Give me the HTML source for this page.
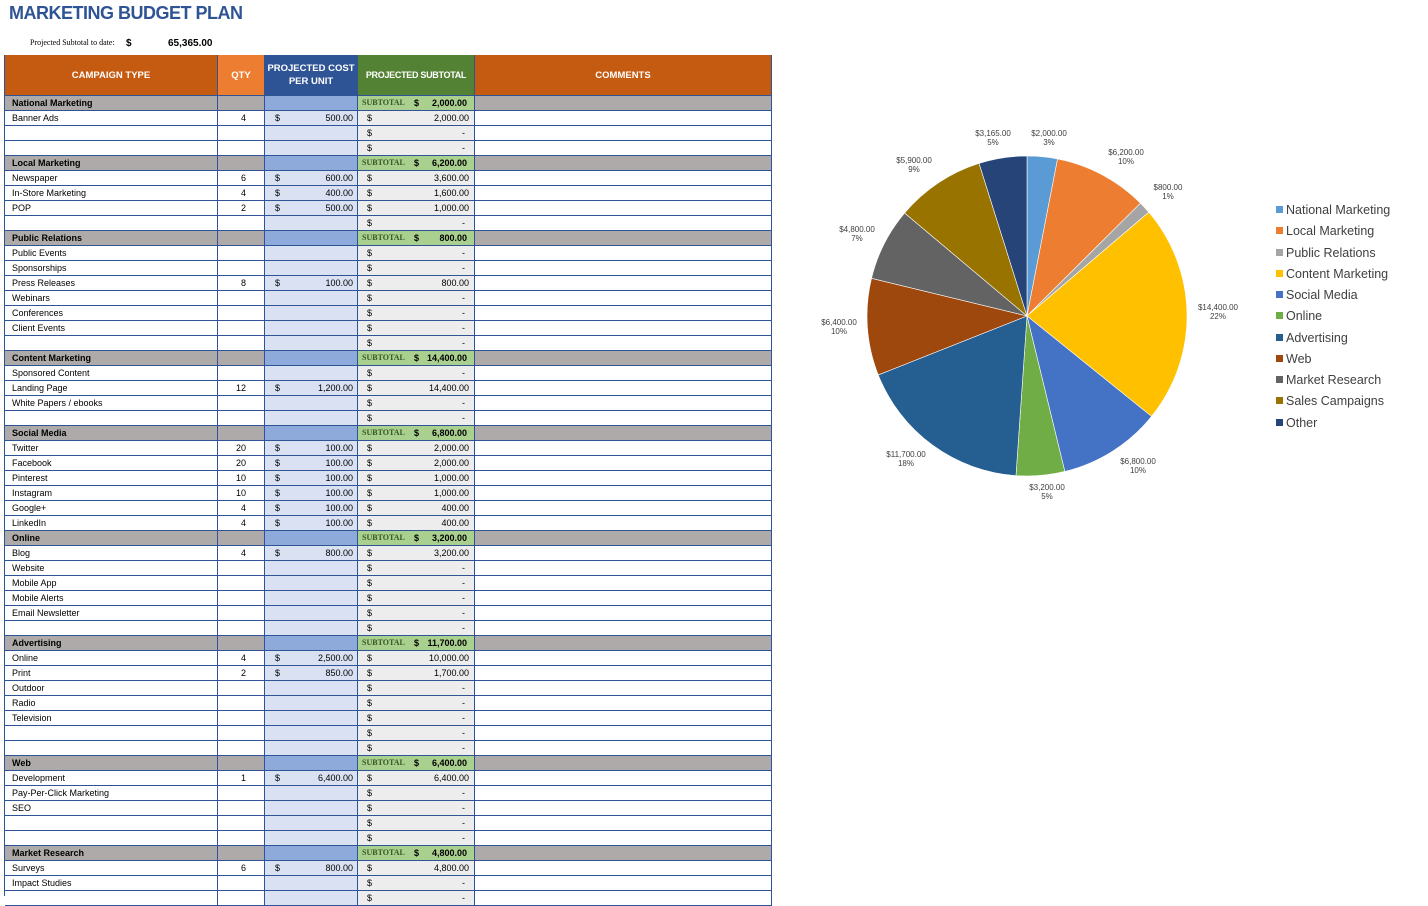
<!DOCTYPE html>
<html><head><meta charset="utf-8">
<style>
body{margin:0;width:1428px;height:896px;overflow:hidden;background:#fff;font-family:"Liberation Sans",sans-serif;position:relative}
.a{position:absolute;box-sizing:border-box;white-space:nowrap}
.c{position:absolute;box-sizing:border-box;border-right:1px solid #2f5496;border-bottom:1px solid #2f5496;font-size:9px;color:#000;line-height:14px;overflow:hidden;white-space:nowrap}
.h{position:absolute;box-sizing:border-box;color:#fff;font-weight:bold;font-size:9.5px;display:flex;align-items:center;justify-content:center;text-align:center;line-height:13px;border-right:1px solid #2f5496;border-bottom:1px solid #2f5496}
.lg{position:absolute;left:1276px;font-size:12.5px;color:#404040}
.lg i{display:inline-block;width:7px;height:7px;margin-right:3px;vertical-align:1px}
</style></head><body>
<div class="a" style="left:9px;top:3px;font-size:18px;font-weight:bold;color:#2f5496;letter-spacing:-0.5px">MARKETING BUDGET PLAN</div>
<div class="a" style="left:30px;top:38px;font-size:8px;font-family:'Liberation Serif',serif">Projected Subtotal to date:</div>
<div class="a" style="left:126px;top:38px;font-size:10px;font-weight:bold">$</div>
<div class="a" style="left:168px;top:38px;font-size:10px;font-weight:bold">65,365.00</div>
<div id="t"></div>
<svg id="pie" class="a" style="left:0;top:0" width="1428" height="896"></svg>
<div class="lg" style="top:203px"><i style="background:#5b9bd5"></i>National Marketing</div>
<div class="lg" style="top:224px"><i style="background:#ed7d31"></i>Local Marketing</div>
<div class="lg" style="top:246px"><i style="background:#a5a5a5"></i>Public Relations</div>
<div class="lg" style="top:267px"><i style="background:#ffc000"></i>Content Marketing</div>
<div class="lg" style="top:288px"><i style="background:#4472c4"></i>Social Media</div>
<div class="lg" style="top:309px"><i style="background:#70ad47"></i>Online</div>
<div class="lg" style="top:331px"><i style="background:#255e91"></i>Advertising</div>
<div class="lg" style="top:352px"><i style="background:#9e480e"></i>Web</div>
<div class="lg" style="top:373px"><i style="background:#636363"></i>Market Research</div>
<div class="lg" style="top:394px"><i style="background:#997300"></i>Sales Campaigns</div>
<div class="lg" style="top:416px"><i style="background:#264478"></i>Other</div>
<script>
var h='';
function cell(x0,x1,y,hgt,bg,inner,cls){h+='<div class="'+(cls||'c')+'" style="left:'+x0+'px;top:'+y+'px;width:'+(x1-x0)+'px;height:'+hgt+'px;background:'+bg+'">'+inner+'</div>';}
cell(5,218,55,41,'#c55a11','CAMPAIGN TYPE','h');
cell(218,265,55,41,'#ed7d31','QTY','h');
cell(265,358,55,41,'#2f5496','PROJECTED COST<br>PER UNIT','h');
cell(358,475,55,41,'#548235','<span style="white-space:nowrap;font-size:9px;letter-spacing:-0.3px">PROJECTED SUBTOTAL</span>','h');
cell(475,772,55,41,'#c55a11','COMMENTS','h');
var rows=[
['S','National Marketing','2,000.00'],['Banner Ads',4,'500.00','2,000.00'],[''],[''],
['S','Local Marketing','6,200.00'],['Newspaper',6,'600.00','3,600.00'],['In-Store Marketing',4,'400.00','1,600.00'],['POP',2,'500.00','1,000.00'],[''],
['S','Public Relations','800.00'],['Public Events'],['Sponsorships'],['Press Releases',8,'100.00','800.00'],['Webinars'],['Conferences'],['Client Events'],[''],
['S','Content Marketing','14,400.00'],['Sponsored Content'],['Landing Page',12,'1,200.00','14,400.00'],['White Papers / ebooks'],[''],
['S','Social Media','6,800.00'],['Twitter',20,'100.00','2,000.00'],['Facebook',20,'100.00','2,000.00'],['Pinterest',10,'100.00','1,000.00'],['Instagram',10,'100.00','1,000.00'],['Google+',4,'100.00','400.00'],['LinkedIn',4,'100.00','400.00'],
['S','Online','3,200.00'],['Blog',4,'800.00','3,200.00'],['Website'],['Mobile App'],['Mobile Alerts'],['Email Newsletter'],[''],
['S','Advertising','11,700.00'],['Online',4,'2,500.00','10,000.00'],['Print',2,'850.00','1,700.00'],['Outdoor'],['Radio'],['Television'],[''],[''],
['S','Web','6,400.00'],['Development',1,'6,400.00','6,400.00'],['Pay-Per-Click Marketing'],['SEO'],[''],[''],
['S','Market Research','4,800.00'],['Surveys',6,'800.00','4,800.00'],['Impact Studies'],['']];
var y=96;
rows.forEach(function(r){
 if(r[0]=='S'){
  cell(5,218,y,15,'#aeaaaa','<b style="padding-left:7px">'+r[1]+'</b>');
  cell(218,265,y,15,'#aeaaaa','');
  cell(265,358,y,15,'#8eaadb','');
  cell(358,475,y,15,'#a9d08e','<span style="position:absolute;left:4px;font-family:\'Liberation Serif\',serif;font-size:8px;color:#375623;font-weight:bold">SUBTOTAL</span><b style="position:absolute;left:56px">$</b><b style="position:absolute;right:7px">'+r[2]+'</b>');
  cell(475,772,y,15,'#aeaaaa','');
 } else {
  cell(5,218,y,15,'#fff','<span style="padding-left:7px">'+r[0]+'</span>');
  cell(218,265,y,15,'#fff',r[1]?'<span style="position:absolute;right:18px">'+r[1]+'</span>':'');
  cell(265,358,y,15,'#d9e1f2',r[2]?'<span style="position:absolute;left:10px">$</span><span style="position:absolute;right:4px">'+r[2]+'</span>':'');
  cell(358,475,y,15,'#ededed','<span style="position:absolute;left:9px">$</span><span style="position:absolute;right:'+(r[3]?5:9)+'px">'+(r[3]||'-')+'</span>');
  cell(475,772,y,15,'#fff','');
 }
 y+=15;
});
h='<div class="a" style="left:4px;top:55px;width:1px;height:841px;background:#2f5496"></div><div class="a" style="left:4px;top:55px;width:768px;height:1px;background:#2f5496"></div>'+h;
document.getElementById('t').innerHTML=h;
var vals=[2000,6200,800,14400,6800,3200,11700,6400,4800,5900,3165];
var cols=['#5b9bd5','#ed7d31','#a5a5a5','#ffc000','#4472c4','#70ad47','#255e91','#9e480e','#636363','#997300','#264478'];
var labs=[['$2,000.00','3%'],['$6,200.00','10%'],['$800.00','1%'],['$14,400.00','22%'],['$6,800.00','10%'],['$3,200.00','5%'],['$11,700.00','18%'],['$6,400.00','10%'],['$4,800.00','7%'],['$5,900.00','9%'],['$3,165.00','5%']];
var lp=[[1049,136],[1126,155],[1168,190],[1218,310],[1138,464],[1047,490],[906,457],[839,325],[857,232],[914,163],[993,136]];
var tot=vals.reduce(function(a,b){return a+b},0),cx=1027,cy=316,R=160,a=0,s='';
vals.forEach(function(v,i){
 var a2=a+v/tot*2*Math.PI;
 var x1=cx+R*Math.sin(a),y1=cy-R*Math.cos(a),x2=cx+R*Math.sin(a2),y2=cy-R*Math.cos(a2);
 s+='<path d="M'+cx+','+cy+'L'+x1+','+y1+'A'+R+','+R+' 0 '+((a2-a)>Math.PI?1:0)+' 1 '+x2+','+y2+'Z" fill="'+cols[i]+'" stroke="#fff" stroke-width="0.6"/>';
 a=a2;
});
lp.forEach(function(p,i){
 s+='<text x="'+p[0]+'" y="'+p[1]+'" font-size="8" fill="#404040" text-anchor="middle" font-family="Liberation Sans">'+labs[i][0]+'</text><text x="'+p[0]+'" y="'+(p[1]+9)+'" font-size="8" fill="#404040" text-anchor="middle" font-family="Liberation Sans">'+labs[i][1]+'</text>';
});
document.getElementById('pie').innerHTML=s;
</script>
</body></html>
